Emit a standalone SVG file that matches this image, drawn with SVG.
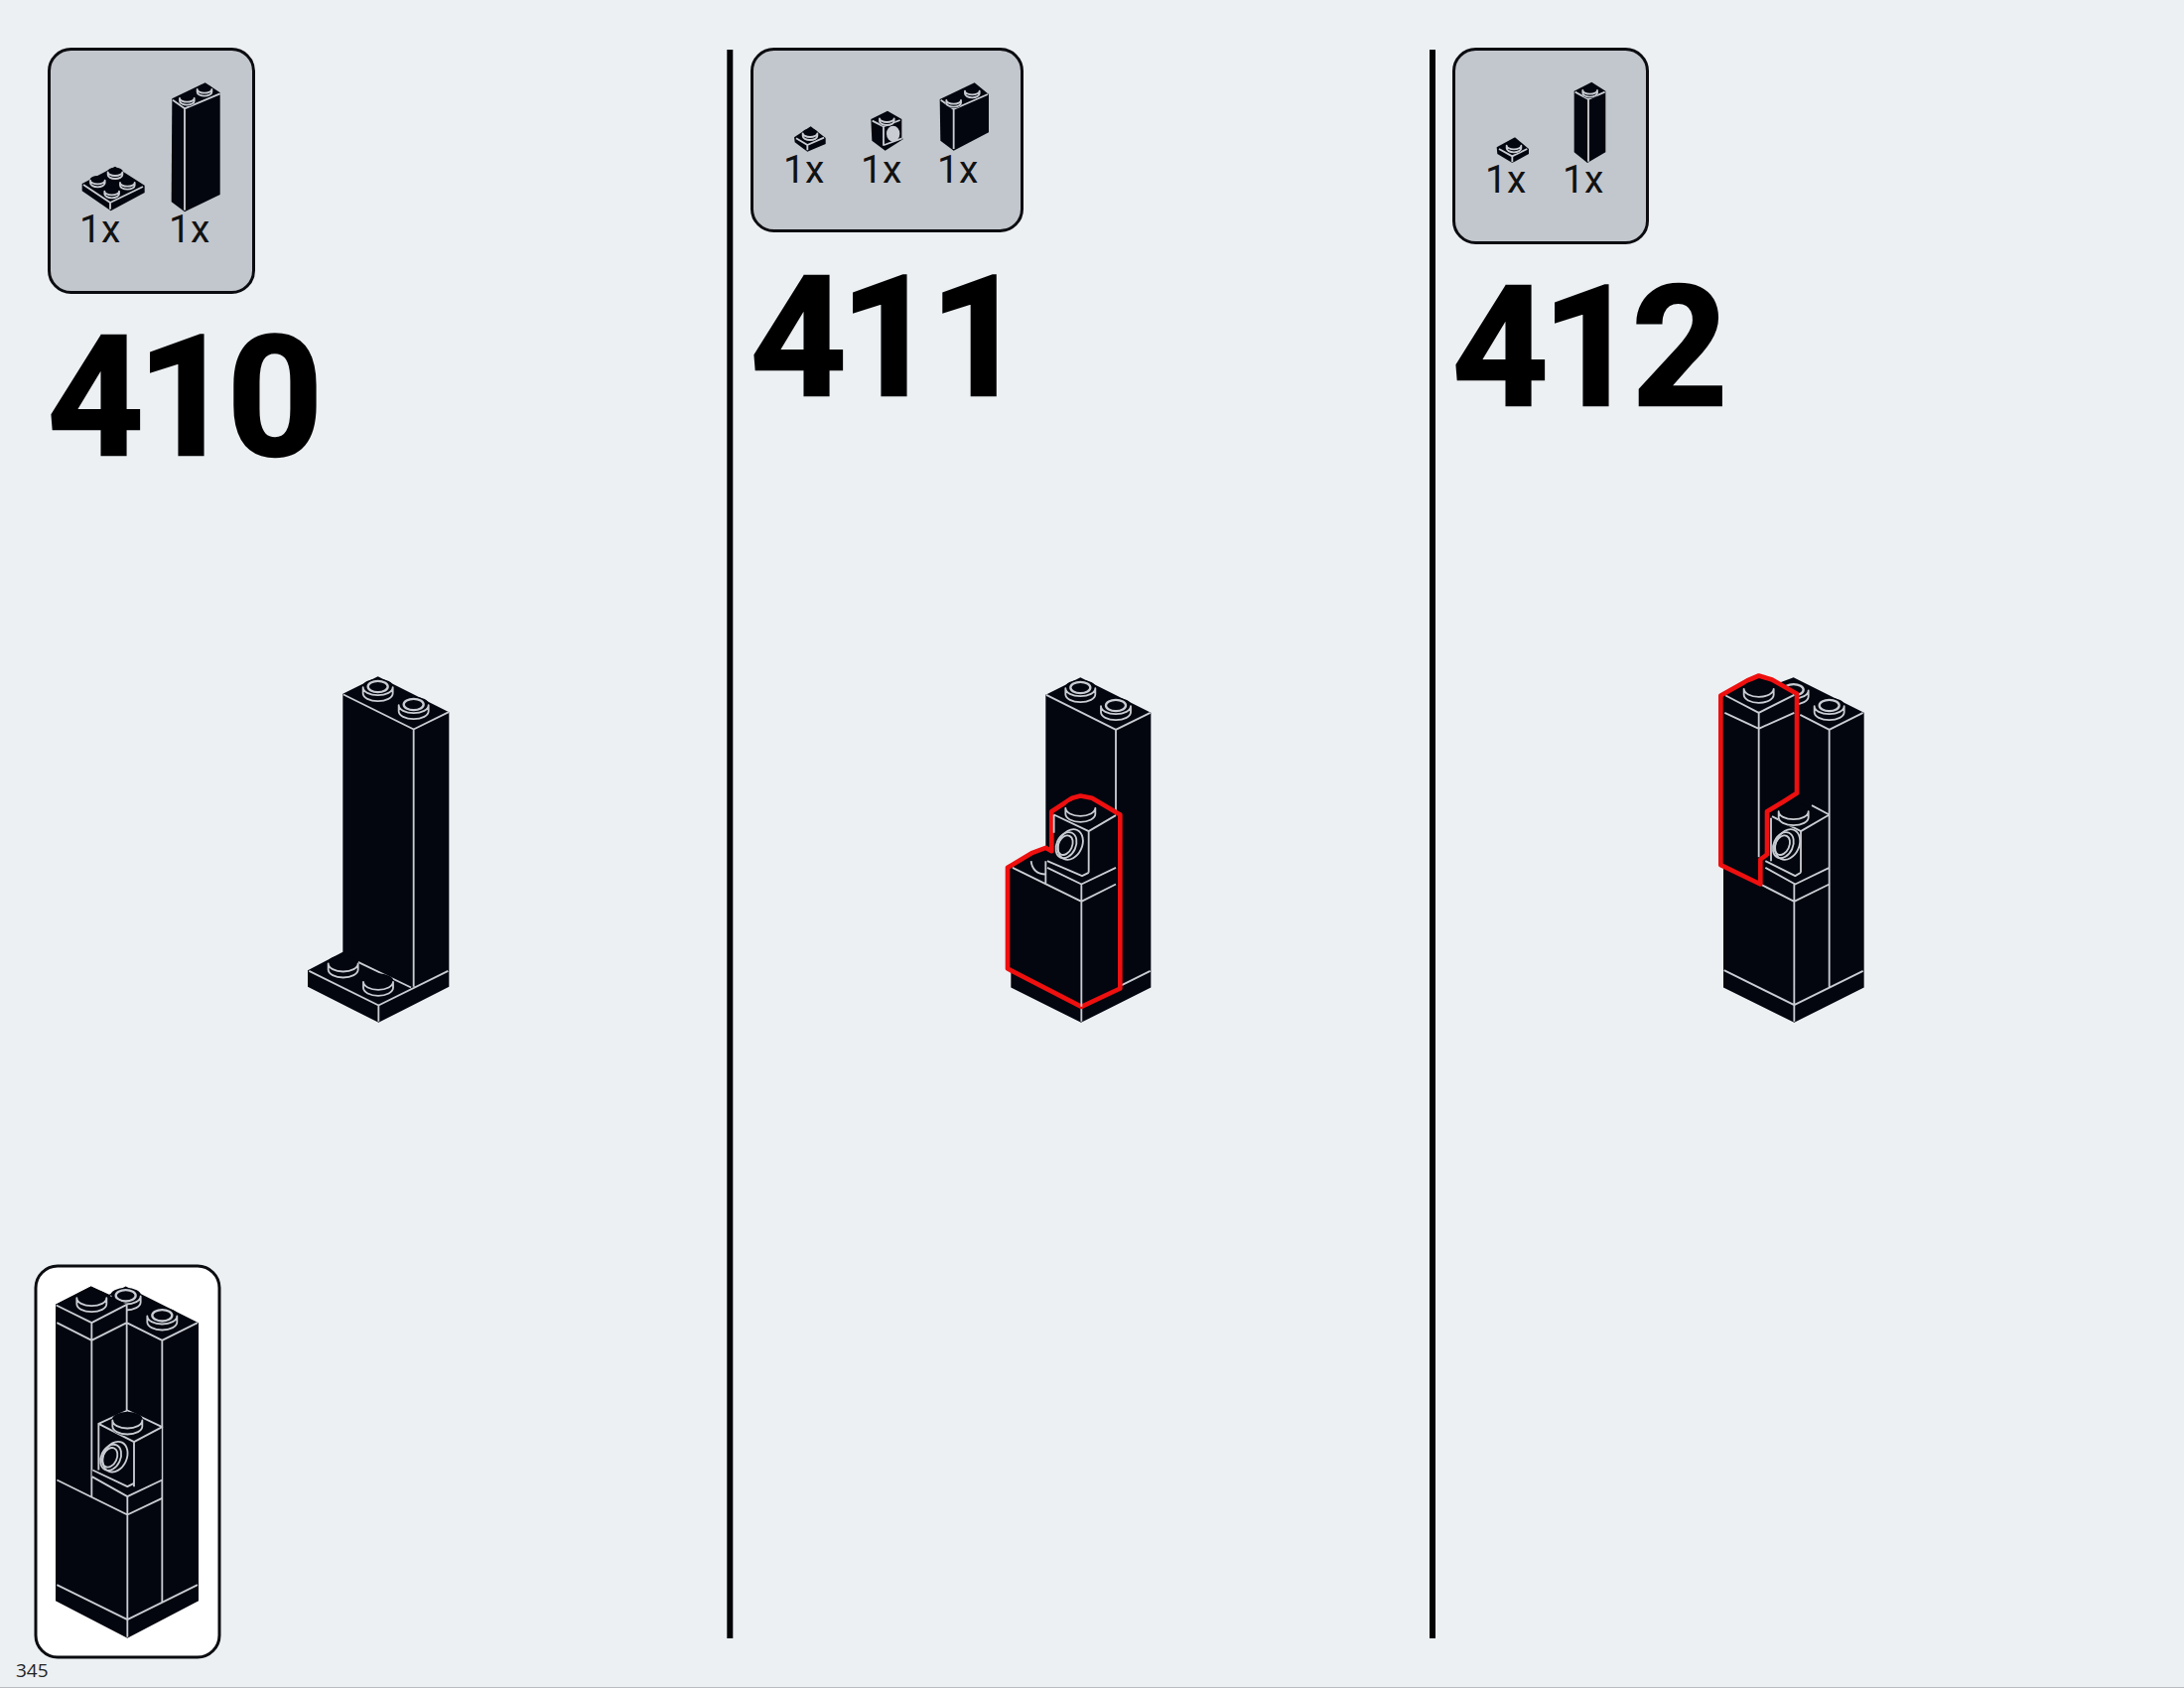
<svg xmlns="http://www.w3.org/2000/svg" width="2200" height="1700" viewBox="0 0 2200 1700">
<style>
.box{fill:#c2c7cd;stroke:#0b0c10;stroke-width:3}
.inset{fill:#fff;stroke:#0b0c10;stroke-width:3}
.div{stroke:#020305;stroke-width:6}
.num{font-family:Roboto,"Liberation Sans",Arial,sans-serif;font-weight:700;font-size:168px;letter-spacing:-6px;fill:#000;stroke:#000;stroke-width:2.500}
.qty{font-family:Roboto,"Liberation Sans",Arial,sans-serif;font-size:39px;fill:#111}
.pg{font-family:"Open Sans",sans-serif;font-size:19px;fill:#222}
.blk{fill:#03060f}
.ln{fill:none;stroke:#c9cdd3;stroke-width:5.500;stroke-linejoin:round}
.ring{fill:none;stroke:#c9cdd3;stroke-width:7}
.red{fill:#03060f;stroke:#ee0f0f;stroke-width:14;stroke-linejoin:round}
</style>
<defs>
<g id="stud"><path class="blk" d="M-47 0A47 26 0 0 1 47 0V20A47 26 0 0 1-47 20Z"/><path class="ln" d="M-45 0A45 24 0 0 0 45 0V18A45 24 0 0 1-45 18Z"/></g>
<g id="hstud"><use href="#stud"/><ellipse class="ring" rx="30" ry="17" cy="-2"/></g>
<g id="sstud"><ellipse class="ln" cx="10" cy="0" rx="35" ry="48" transform="rotate(25 10 0)"/><ellipse class="ln" cx="-3" cy="2" rx="29" ry="41" transform="rotate(25 -3 2)"/><ellipse class="ln" cx="-6" cy="2" rx="21" ry="31" transform="rotate(25 -6 2)"/></g>
<g id="tstud"><path class="blk" d="M-24 0A24 14 0 0 1 24 0V10A24 14 0 0 1-24 10Z"/><path class="ln" d="M-22 0A22 11 0 0 0 22 0V8A22 12 0 0 1-22 8Z"/></g>
</defs>
<rect width="2200" height="1700" fill="#ecf0f3"/>
<rect y="1699" width="2200" height="1" fill="#b9bcc0"/>
<line class="div" x1="735.300" y1="50" x2="735.300" y2="1650"/>
<line class="div" x1="1443" y1="50" x2="1443" y2="1650"/>

<g id="step-410">
<rect class="box" x="49.500" y="49.500" width="206" height="245" rx="22"/>
<g transform="translate(30 30) scale(.33333)">
<path class="blk" d="M158 465L258 413 347 470V492L245 547 158 487Z"/>
<path class="ln" d="M162 468L243 522 342 474M243 522V542"/>
<use href="#tstud" x="205" y="455"/><use href="#tstud" x="258" y="430"/><use href="#tstud" x="295" y="462"/><use href="#tstud" x="248" y="488"/>
<path class="blk" d="M430 208L530 160 575 190V498L468 550 428 520Z"/>
<path class="ln" d="M432 212L468 238 575 193M468 238V545"/>
<use href="#tstud" x="475" y="207"/><use href="#tstud" x="528" y="180"/>
</g>
<text class="qty" x="80" y="244">1x</text><text class="qty" x="170" y="244">1x</text>
<text class="num" x="48" y="458">410</text>
<g transform="translate(290 660.500) scale(.33333)">
<path class="blk" d="M166 115L272 62 487 170V1000L274 1108 60 1000V950L166 895Z"/>
<path class="ln" d="M168 117L380 222 486 170M380 222V1000M64 952L274 1056 484 952M274 1056V1105M212 925L372 1002"/>
<use href="#hstud" x="272" y="95"/><use href="#hstud" x="380" y="149"/>
<use href="#stud" x="167" y="930"/><use href="#stud" x="273" y="985"/>
</g>
</g>

<g id="step-411">
<rect class="box" x="757.500" y="49.500" width="272" height="183" rx="22"/>
<g transform="translate(750 40) scale(.33333)">
<path class="blk" d="M150 295L200 262 245 297V315L190 338 152 310Z"/>
<path class="ln" d="M156 298L190 318 240 296M190 318V334"/>
<use href="#tstud" x="198" y="283"/>
<path class="blk" d="M382 240L432 215 475 240V298L480 300 425 335 385 305Z"/>
<path class="ln" d="M386 245L420 262 470 243M420 262V320M422 318L476 298"/>
<ellipse cx="449" cy="284" rx="20" ry="24" fill="#c9cdd3"/>
<use href="#tstud" x="430" y="238"/>
<path class="blk" d="M590 180L695 130 738 165V280L632 335 592 305Z"/>
<path class="ln" d="M593 182L632 210 735 165M632 210V330"/>
<use href="#tstud" x="632" y="183"/><use href="#tstud" x="688" y="155"/>
</g>
<text class="qty" x="789" y="184">1x</text><text class="qty" x="867" y="184">1x</text><text class="qty" x="944" y="184">1x</text>
<text class="num" x="756" y="398">411</text>
<g transform="translate(1000 670.500) scale(.33333)">
<path class="blk" d="M160 88L265 35 478 142V972L267 1078 55 972V600H160Z"/>
<path class="ln" d="M162 88L372 193 476 142M372 193V440M390 965L476 922M268 1030V1075"/>
<use href="#hstud" x="265" y="68"/><use href="#hstud" x="372" y="122"/>
<path class="red" d="M45 610L120 565 160 550 178 560V440L240 400 265 393 300 400 385 450V975L268 1030 45 915Z"/>
<path class="ln" d="M185 450L290 500 372 452M185 450V505M290 500V625M165 590L270 635 290 625M165 610L268 660 372 610M60 610L268 712 372 660M268 660V1030M160 590V660"/>
<path class="ln" d="M116 590C118 615 135 630 160 630"/>
<use href="#stud" x="265" y="430"/>
<use href="#sstud" x="225" y="540"/>
</g>
</g>

<g id="step-412">
<rect class="box" x="1464.500" y="49.500" width="195" height="195" rx="22"/>
<g transform="translate(1455 40) scale(.33333)">
<path class="blk" d="M158 325L213 295 255 330V345L205 372 160 345Z"/>
<path class="ln" d="M165 330L205 352 250 330M205 352V370"/>
<use href="#tstud" x="210" y="320"/>
<path class="blk" d="M392 155L445 128 487 155V340L432 372 392 340Z"/>
<path class="ln" d="M395 158L435 180 485 158M435 180V368"/>
<use href="#tstud" x="440" y="153"/>
</g>
<text class="qty" x="1496" y="194">1x</text><text class="qty" x="1574" y="194">1x</text>
<text class="num" x="1463" y="408">412</text>
<g transform="translate(1710 670.500) scale(.33333)">
<path class="blk" d="M78 90L185 40 250 50 290 35 503 142V972L292 1078 78 972Z"/>
<use href="#hstud" x="290" y="75"/><use href="#hstud" x="398" y="122"/>
<path class="ln" d="M310 148L398 193 500 142M398 193V970M222 590V460M225 455L312 500 398 450 345 422M312 500V625M205 590L295 635 312 625M205 610L295 660 398 610M190 660L292 712 398 660M292 660V1075M80 920L292 1025 500 922"/>
<use href="#stud" x="290" y="440"/>
<use href="#sstud" x="262" y="540"/>
<path class="red" d="M70 90L150 45 185 30 225 42 300 85V385L260 410 210 440V570L190 585V660L70 602Z"/>
<path class="ln" d="M85 90L185 142 292 88M82 142L185 190 292 142M185 142V578"/>
<use href="#stud" x="185" y="70"/>
</g>
</g>

<g id="inset">
<rect class="inset" x="36" y="1275" width="185" height="394" rx="22"/>
<g transform="translate(0 1260.500) scale(.33333)">
<path class="blk" d="M168 160L275 105 330 130 380 105 600 215V1055L385 1168 168 1055Z"/>
<use href="#hstud" x="380" y="135"/><use href="#hstud" x="490" y="195"/>
<path class="blk" d="M168 160L275 105 383 160V215L277 268 168 215Z"/>
<path class="ln" d="M170 162L277 215 383 160M172 215L277 268 383 215 490 268 597 215M277 215V740M383 160V480M490 268V1058"/>
<use href="#stud" x="277" y="140"/>
<path class="blk" d="M298 520L385 480 488 530V690L385 740 278 680V660L298 650Z"/>
<path class="ln" d="M298 520L405 575 490 530 385 480ZM298 520V660M405 575V710M280 660L385 710 405 700M278 680L385 740 490 690M172 690L385 795 490 745M385 740V1165M172 1007L385 1112 597 1007"/>
<use href="#stud" x="385" y="510"/>
<use href="#sstud" x="338" y="620"/>
</g>
<text class="pg" x="16" y="1688.500">345</text>
</g>
</svg>
